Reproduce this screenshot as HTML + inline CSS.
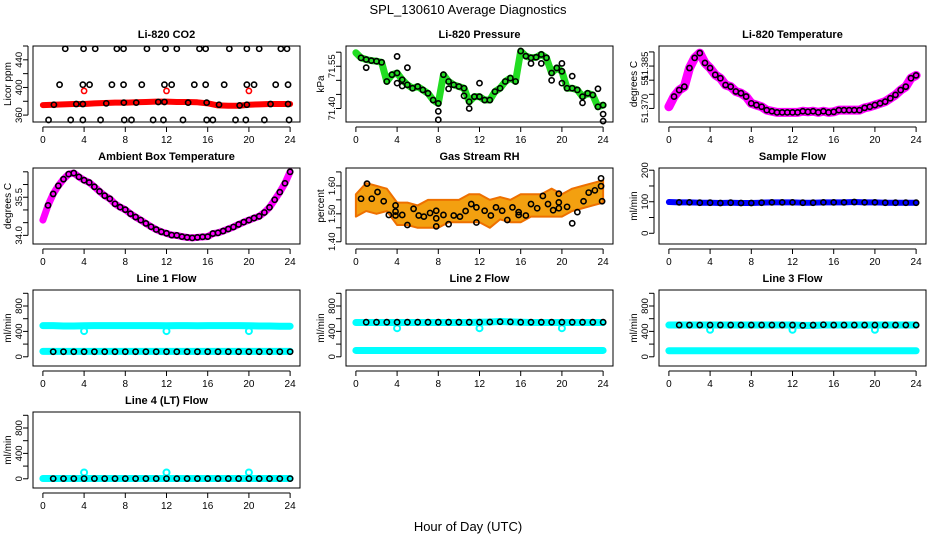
<!DOCTYPE html>
<html><head><meta charset="utf-8">
<style>
html,body{margin:0;padding:0;background:#fff;}
svg{display:block;font-family:"Liberation Sans",Arial,sans-serif;}
</style></head>
<body>
<svg id="chart" width="936" height="540" viewBox="0 0 936 540" xmlns="http://www.w3.org/2000/svg">
<text x="468" y="14" text-anchor="middle" font-size="13">SPL_130610  Average Diagnostics</text>
<text x="468" y="531" text-anchor="middle" font-size="13">Hour of Day (UTC)</text>
</svg>
<script>
const hourly = [0,1,2,3,4,5,6,7,8,9,10,11,12,13,14,15,16,17,18,19,20,21,22,23,24];
const halfHours = [0,0.5,1,1.5,2,2.5,3,3.5,4,4.5,5,5.5,6,6.5,7,7.5,8,8.5,9,9.5,10,10.5,11,11.5,12,12.5,13,13.5,14,14.5,15,15.5,16,16.5,17,17.5,18,18.5,19,19.5,20,20.5,21,21.5,22,22.5,23,23.5,24];
const xTicks = [0,4,8,12,16,20,24];

// CO2
const co2Red = [374.5,375,375.5,376,376,377,377.5,378,378,378.5,379,379.5,379.5,379,379,378.5,377,374,373.5,373.5,375,375.5,376,376,376];
const co2RedOutHours = [4,12,20];
const co2RedOutVals = [395,395,395];
const co2BlackHours = [2.17,3.95,5.08,7.18,7.83,10.1,11.9,13.0,15.2,15.8,18.1,19.8,21.0,23.1,23.7,
 1.62,3.88,4.53,6.7,7.83,9.6,11.8,12.5,14.7,15.8,17.6,19.8,20.5,22.6,23.8,
 0.55,2.7,3.88,5.6,7.9,8.6,10.7,11.7,13.6,15.9,16.5,18.7,19.7,21.5,23.9,
 1.07,3.24,3.88,6.15,7.86,9.06,11.2,11.8,14.1,15.9,17.1,19.1,19.8,22.1,23.8];
const co2BlackVals = [456,456,456,456,456,456,456,456,456,456,456,456,456,456,456,
 404,404,404,404,404,404,404,404,404,404,404,404,404,404,404,
 353,353,353,353,353,353,353,353,353,353,353,353,353,353,353,
 375,376,376,377,378,378,379,379,378,378,375,374,375,376,376];

// Pressure
const pressVals = [71.598,71.58,71.574,71.570,71.568,71.564,71.496,71.52,71.526,71.502,71.484,71.472,71.478,71.466,71.454,71.43,71.418,71.52,71.496,71.484,71.478,71.472,71.424,71.442,71.442,71.43,71.43,71.46,71.472,71.496,71.508,71.496,71.604,71.586,71.58,71.582,71.592,71.58,71.526,71.544,71.532,71.472,71.472,71.466,71.442,71.454,71.448,71.406,71.412];
const pressOutHours = [1,4,4,4.5,5,8,8,9,10.5,11,12,17,18,19,20,20,21,22,23.5,24,24];
const pressOutVals = [71.545,71.585,71.49,71.48,71.545,71.39,71.36,71.47,71.445,71.40,71.49,71.56,71.56,71.50,71.56,71.49,71.515,71.42,71.47,71.38,71.355];

// Li-820 temperature
const tempVals = [51.3706,51.3742,51.3765,51.3777,51.3843,51.3879,51.3896,51.3861,51.3843,51.3819,51.3807,51.3783,51.3777,51.3760,51.3754,51.3742,51.3718,51.3712,51.3706,51.3694,51.3690,51.3686,51.3686,51.3686,51.3686,51.3686,51.3690,51.3688,51.3690,51.3686,51.3690,51.3686,51.3688,51.3694,51.3694,51.3694,51.3694,51.3694,51.3702,51.3706,51.3712,51.3718,51.3724,51.3736,51.3748,51.3765,51.3777,51.3807,51.3817];

// Ambient box temperature
const ambVals = [34.60,35.18,35.63,35.95,36.21,36.41,36.45,36.30,36.17,36.08,35.91,35.73,35.56,35.44,35.24,35.11,35.01,34.85,34.72,34.60,34.47,34.34,34.23,34.14,34.08,34.01,34.0,33.95,33.92,33.9,33.92,33.94,33.95,34.07,34.1,34.17,34.25,34.33,34.43,34.52,34.6,34.68,34.75,34.9,35.1,35.4,35.7,36.05,36.5];

// Gas stream RH
const rhCenter = [1.53,1.56,1.55,1.55,1.50,1.50,1.49,1.50,1.50,1.51,1.51,1.52,1.52,1.50,1.52,1.51,1.52,1.53,1.53,1.54,1.53,1.55,1.56,1.57,1.58];
const rhSpread = [0.04,0.05,0.05,0.04,0.04,0.04,0.04,0.05,0.05,0.04,0.04,0.05,0.05,0.05,0.04,0.04,0.05,0.04,0.04,0.05,0.04,0.04,0.04,0.04,0.04];
const rhBlackHours = [1.08,0.5,1.54,2.1,2.7,3.2,3.85,3.85,3.85,4.5,5.0,5.6,6.1,6.6,7.2,7.8,7.8,7.8,8.5,9.0,9.5,10.1,10.65,11.2,11.7,11.7,12.5,13.1,13.6,14.2,14.7,15.2,15.8,15.8,16.5,17.0,17.6,18.15,18.65,19.15,19.7,19.7,19.7,20.5,21.0,21.5,22.1,22.6,23.2,23.8,23.8,23.9];
const rhBlackVals = [1.608,1.554,1.554,1.578,1.545,1.496,1.53,1.508,1.494,1.496,1.46,1.518,1.494,1.49,1.503,1.511,1.484,1.455,1.496,1.463,1.494,1.49,1.51,1.535,1.469,1.523,1.511,1.494,1.523,1.511,1.478,1.523,1.496,1.506,1.494,1.535,1.52,1.564,1.535,1.513,1.541,1.572,1.52,1.525,1.466,1.506,1.545,1.576,1.584,1.627,1.599,1.545];

// Sample flow
const sampleVals = [99,98,98,97,97,96,97,96,96,97,98,98,98,97,97,98,98,98,99,98,98,97,97,97,97];

// Line flows (mL/min)
const line1High = [490,490,485,485,488,490,490,490,490,490,490,490,488,490,490,488,490,490,490,490,488,485,485,482,482];
const line1Low  = [85,85,85,85,85,85,85,85,85,85,85,85,85,85,85,85,85,85,85,85,85,85,85,85,85];
const line1Black = [80,80,80,80,80,80,80,80,80,80,80,80,80,80,80,80,80,80,80,80,80,80,80,80,80];
const line2High = [540,540,540,540,540,540,540,540,540,540,540,540,545,548,555,550,545,540,540,540,540,540,540,540,540];
const line2Low  = [100,100,100,100,100,100,100,100,100,100,100,100,100,100,100,100,100,100,100,100,100,100,100,100,100];
const line2Black = [545,545,545,545,545,545,545,545,545,545,545,545,545,548,552,550,545,545,545,545,545,545,545,545,545];
const line3High = [500,500,500,500,500,500,500,500,500,500,500,500,500,495,495,500,500,500,500,500,500,500,500,500,500];
const line3Low  = [95,95,95,95,95,95,95,95,95,95,95,95,95,95,95,95,95,95,95,95,95,95,95,95,95];
const line3Black = [500,500,500,500,500,500,500,500,500,500,500,500,500,495,500,505,500,500,500,500,500,500,500,500,500];
const line4Cyan  = [5,5,5,5,5,5,5,5,5,5,5,5,5,5,5,5,5,5,5,5,5,5,5,5,5];
const line4Black = [3,3,3,3,3,3,3,3,3,3,3,3,3,3,3,3,3,3,3,3,3,3,3,3,3];
const dipHours = [4,12,20];
const line1Dips = [405,405,405];
const line2Dips = [450,450,450];
const line3Dips = [425,425,425];
const line4Dips = [100,100,100];

const NS = "http://www.w3.org/2000/svg";
const svg = document.getElementById('chart');
const colL = [33,346,659], rowT = [46,168,290,412], PW = 267, PH = 76;

function mk(tag, attrs, parent){
  const e = document.createElementNS(NS, tag);
  for (const k in attrs) e.setAttribute(k, attrs[k]);
  (parent||svg).appendChild(e);
  return e;
}

function panel(col,row,title,ylab,ymin,ymax,ticks,labels,key){
  const L = colL[col], T = rowT[row];
  const g = mk('g',{});
  
  
  const xs = h => L + (h+0.96)/25.92*PW;
  const ys = v => T + PH - (v-ymin)/(ymax-ymin)*PH;
  const box = mk('rect',{x:L,y:T,width:PW,height:PH,fill:'none',stroke:'#000','stroke-width':1},g);
  
  
  const t = mk('text',{x:L+PW/2,y:T-8,'text-anchor':'middle','font-size':11,'font-weight':'bold'},g);
  t.textContent = title;
  
  
  const yl = mk('text',{x:0,y:0,'text-anchor':'middle','font-size':10,transform:`translate(${L-22},${T+PH/2}) rotate(-90)`},g);
  yl.textContent = ylab;
  
  
  const xa = mk('g',{},g);
  
  
  mk('line',{x1:xs(0),x2:xs(24),y1:T+PH+5,y2:T+PH+5,stroke:'#000'},xa);
  xTicks.forEach(h=>{
    mk('line',{x1:xs(h),x2:xs(h),y1:T+PH+5,y2:T+PH+10,stroke:'#000'},xa);
    const tl = mk('text',{x:xs(h),y:T+PH+21,'text-anchor':'middle','font-size':10},xa);
    tl.textContent = h;
    
    
  });
  const ya = mk('g',{},g);
  
  
  mk('line',{x1:L-5,x2:L-5,y1:ys(ticks[0]),y2:ys(ticks[ticks.length-1]),stroke:'#000'},ya);
  ticks.forEach((v,i)=>{
    mk('line',{x1:L-10,x2:L-5,y1:ys(v),y2:ys(v),stroke:'#000'},ya);
    if (labels[i]!==''){
      const tl = mk('text',{x:0,y:0,'text-anchor':'middle','font-size':9.5,transform:`translate(${L-11},${ys(v)}) rotate(-90)`},ya);
      tl.textContent = labels[i];
      
      
    }
  });
  const clip = mk('g',{},g);
  return {g:clip,xs,ys};
}

function band(p,hs,vs,color,w,name){
  const pl = mk('polyline',{points:hs.map((h,i)=>p.xs(h)+','+p.ys(vs[i])).join(' '),fill:'none',stroke:color,'stroke-width':w,'stroke-linejoin':'round','stroke-linecap':'round'},p.g);
  
  
}
function circles(p,hs,vs,color,name,r,sw){
  const gg = mk('g',{},p.g);
  
  
  hs.forEach((h,i)=>{
    const c = mk('circle',{cx:p.xs(h),cy:p.ys(vs[i]),r:r||2.6,fill:'none',stroke:color,'stroke-width':sw||1.6},gg);
    
    
  });
}

// Panel 1: CO2
let p = panel(0,0,'Li-820 CO2','Licor ppm',350,460,[360,380,400,420,440,460],['360','','400','','440',''],'co2');
band(p,hourly,co2Red,'#ff0000',6,'co2-red-series');
circles(p,co2BlackHours,co2BlackVals,'#000','co2-black-points');
circles(p,co2RedOutHours,co2RedOutVals,'#ff0000','co2-red-outliers');

// Panel 2: Pressure
p = panel(1,0,'Li-820 Pressure','kPa',71.352,71.622,[71.40,71.45,71.50,71.55,71.60],['71.40','','','71.55',''],'pressure');
band(p,halfHours,pressVals,'#22dd22',7,'pressure-green-series');
circles(p,halfHours.slice(1),pressVals.slice(1),'#000','pressure-black-points');
circles(p,pressOutHours,pressOutVals,'#000','pressure-black-outliers');

// Panel 3: Li-820 Temperature
p = panel(2,0,'Li-820 Temperature','degrees C',51.3652,51.3921,[51.370,51.375,51.380,51.385,51.390],['51.370','','51','51.385',''],'li820-temp');
band(p,halfHours,tempVals,'#ff00ff',9,'li820-temp-magenta-series');
circles(p,halfHours.slice(1),tempVals.slice(1),'#000','li820-temp-black-points');

// Panel 4: Ambient
p = panel(0,1,'Ambient Box Temperature','degrees C',33.66,36.65,[34.0,34.5,35.0,35.5,36.0,36.5],['34.0','','','35.5','',''],'ambient');
band(p,halfHours,ambVals,'#ff00ff',7,'ambient-magenta-series');
circles(p,halfHours.slice(1),ambVals.slice(1),'#000','ambient-black-points');

// Panel 5: RH
p = panel(1,1,'Gas Stream RH','percent',1.392,1.664,[1.40,1.45,1.50,1.55,1.60,1.65],['1.40','','1.50','','1.60',''],'rh');
{
  const up = hourly.map((h,i)=>p.xs(h)+','+p.ys(rhCenter[i]+rhSpread[i]));
  const dn = hourly.map((h,i)=>p.xs(h)+','+p.ys(rhCenter[i]-rhSpread[i])).reverse();
  const poly = mk('polygon',{points:up.concat(dn).join(' '),fill:'#f3a010',stroke:'#ee7000','stroke-width':2,'stroke-linejoin':'round'},p.g);
  
  
}
circles(p,rhBlackHours,rhBlackVals,'#000','rh-black-points');

// Panel 6: Sample flow
p = panel(2,1,'Sample Flow','ml/min',-34,207,[0,50,100,150,200],['0','','100','','200'],'sample-flow');
band(p,hourly,sampleVals,'#0000ff',6,'sample-flow-blue-series');
circles(p,hourly.slice(1),sampleVals.slice(1),'#000','sample-flow-black-points');

const fT = [0,200,400,600,800,1000], fL = ['0','','400','','800',''];
// Panel 7: Line 1
p = panel(0,2,'Line 1 Flow','ml/min',-145,1052,fT,fL,'line1');
band(p,hourly,line1High,'#00ffff',7,'line1-cyan-high');
band(p,hourly,line1Low,'#00ffff',7,'line1-cyan-low');
circles(p,dipHours,line1Dips,'#00ffff','line1-cyan-dips',3,2);
circles(p,hourly.slice(1),line1Black.slice(1),'#000','line1-black-points');

// Panel 8: Line 2
p = panel(1,2,'Line 2 Flow','ml/min',-145,1052,fT,fL,'line2');
band(p,hourly,line2High,'#00ffff',7,'line2-cyan-high');
band(p,hourly,line2Low,'#00ffff',7,'line2-cyan-low');
circles(p,dipHours,line2Dips,'#00ffff','line2-cyan-dips',3,2);
circles(p,hourly.slice(1),line2Black.slice(1),'#000','line2-black-points');

// Panel 9: Line 3
p = panel(2,2,'Line 3 Flow','ml/min',-145,1052,fT,fL,'line3');
band(p,hourly,line3High,'#00ffff',7,'line3-cyan-high');
band(p,hourly,line3Low,'#00ffff',7,'line3-cyan-low');
circles(p,dipHours,line3Dips,'#00ffff','line3-cyan-dips',3,2);
circles(p,hourly.slice(1),line3Black.slice(1),'#000','line3-black-points');

// Panel 10: Line 4
p = panel(0,3,'Line 4 (LT) Flow','ml/min',-145,1052,fT,fL,'line4');
band(p,hourly,line4Cyan,'#00ffff',7,'line4-cyan-series');
circles(p,dipHours,line4Dips,'#00ffff','line4-cyan-outliers',3,2);
circles(p,hourly.slice(1),line4Black.slice(1),'#000','line4-black-points');
</script>
</body></html>
